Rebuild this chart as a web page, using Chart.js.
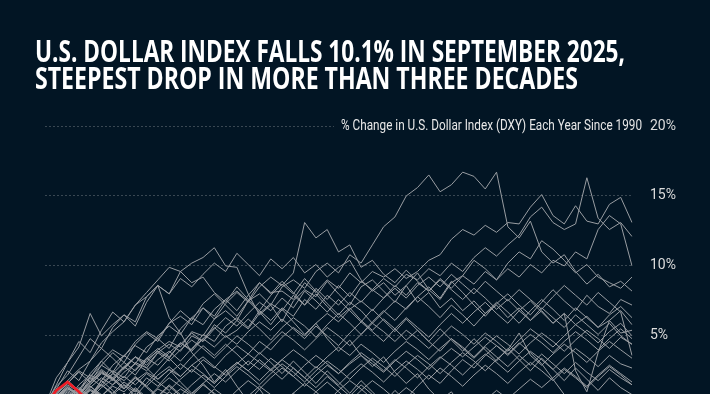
<!DOCTYPE html>
<html>
<head>
<meta charset="utf-8">
<script src="https://cdn.jsdelivr.net/npm/chart.js@4.4.1/dist/chart.umd.min.js"></script>
<style>
  html, body { margin: 0; padding: 0; background: #021524; overflow: hidden; }
  canvas { display: block; }
</style>
</head>
<body>
<canvas id="dxy" width="710" height="712"></canvas>
<script>
// weekly % change in DXY since Jan 1, one array per year (week 0..52)
const weeks = Array.from({length: 53}, (_, i) => i);
const yTicks = [5, 10, 15, 20];

const y2025 = [0, 1.1, 1.7, 1.0, 0.2, 0.5, -0.4, -0.8, -1.2, -3.5, -4.2,
  -3.8, -4.5, -5.6, -7.8, -8.6, -9.0, -8.4, -8.7, -8.1, -8.9,
  -9.3, -9.0, -9.8, -10.5, -10.1, -9.3, -8.8, -9.6, -9.2, -9.9,
  -10.3, -9.8, -10.6, -10.2, -10.9, -10.4, -10.0, -10.5, -10.1];

const y2022 = [0, 0.6, 1.2, 0.8, 1.5, 2.3, 2.0, 2.8, 3.5, 3.1, 4.0,
  4.6, 4.2, 5.3, 5.0, 6.2, 6.8, 6.1, 7.5, 8.0, 7.2,
  8.5, 9.0, 8.4, 9.6, 10.2, 9.5, 10.8, 10.2, 11.5, 12.8,
  13.5, 15.0, 15.6, 16.5, 15.3, 15.8, 16.7, 16.4, 15.5, 16.7,
  12.8, 12.0, 13.2, 11.0, 10.2, 10.8, 9.6, 8.7, 9.4, 8.5, 8.9, 8.2];
const y2015 = [0, 1.0, 1.8, 2.6, 3.2, 4.5, 5.3, 6.0, 7.2, 8.1, 9.0,
  9.9, 9.6, 10.2, 10.6, 11.3, 10.0, 9.9, 8.0, 6.5, 7.2,
  6.0, 7.5, 8.3, 7.8, 8.9, 8.0, 7.2, 8.5, 9.0, 8.2,
  7.4, 8.6, 9.5, 8.3, 7.6, 8.8, 9.3, 10.4, 9.8, 9.0,
  10.2, 11.0, 10.5, 11.8, 11.2, 10.4, 9.5, 10.1, 9.2, 8.8, 8.4, 9.2];
const y2014 = [0, 0.8, 0.4, 1.5, 2.2, 1.8, 2.9, 3.6, 3.0, 4.2, 4.8,
  4.1, 5.5, 6.3, 5.8, 6.9, 7.6, 6.8, 7.9, 8.8, 8.1,
  8.2, 7.6, 8.8, 8.1, 9.0, 8.4, 9.5, 8.8, 9.6, 9.2,
  9.8, 9.1, 9.6, 10.4, 10.8, 11.9, 12.6, 12.2, 12.9, 12.4,
  13.1, 13.0, 14.2, 15.1, 13.6, 13.0, 14.3, 13.2, 13.0, 14.4, 14.9, 13.1];
const y1997 = [0, -0.5, 0.3, 1.0, 0.6, 1.8, 2.5, 2.0, 3.1, 2.7, 3.8,
  4.4, 3.9, 5.0, 4.6, 5.8, 5.2, 6.1, 5.5, 6.6, 7.3,
  6.8, 7.9, 7.2, 8.4, 7.6, 8.6, 7.8, 8.9, 8.3, 9.1,
  8.5, 9.4, 9.0, 9.8, 9.3, 10.2, 9.6, 10.6, 11.3, 10.7,
  11.5, 12.2, 13.5, 14.2, 13.1, 12.6, 13.0, 16.3, 13.4, 12.6, 13.1, 12.1];
const y2005 = [0, 0.5, 1.2, 0.9, 1.7, 2.4, 1.9, 2.8, 2.2, 3.3, 3.9,
  3.4, 4.5, 4.0, 5.1, 4.6, 5.7, 6.3, 5.6, 6.8, 6.1,
  7.0, 6.4, 7.6, 6.9, 7.9, 7.2, 8.1, 7.4, 8.3, 7.7,
  8.6, 7.9, 8.8, 8.2, 9.1, 8.4, 9.3, 8.7, 9.6, 9.0,
  9.8, 9.2, 10.1, 9.5, 10.4, 10.0, 11.0, 10.5, 12.6, 13.6, 13.0, 10.0];
const y2000 = [0, 1.4, 2.2, 3.5, 4.8, 4.1, 5.6, 6.5, 6.0, 7.8, 8.6,
  8.0, 9.6, 8.8, 9.2, 8.1, 7.4, 8.5, 7.6, 6.8, 7.9,
  8.7, 8.0, 9.1, 8.2, 7.3, 6.5, 7.4, 6.8, 5.9, 6.7,
  7.5, 6.9, 7.8, 8.5, 7.7, 8.9, 8.1, 7.2, 6.4, 7.3,
  8.0, 7.2, 6.5, 7.4, 8.3, 7.5, 6.8, 7.9, 7.1, 6.6, 7.6, 7.2];
const y2001 = [0, 2.0, 3.1, 4.2, 6.6, 5.0, 5.8, 6.5, 5.7, 7.4, 8.6,
  8.0, 9.1, 8.5, 9.4, 10.2, 9.6, 10.9, 10.1, 9.3, 10.5,
  9.8, 10.6, 9.5, 10.1, 9.2, 9.9, 10.4, 9.0, 8.2, 8.8,
  7.9, 8.6, 7.4, 8.1, 7.0, 7.7, 6.8, 7.5, 6.6, 7.2,
  6.3, 7.0, 6.1, 6.8, 5.9, 6.6, 5.8, 6.4, 5.6, 6.1, 5.2, 5.4];
const y1992 = [0, 0.9, 1.6, 2.5, 2.0, 3.2, 4.0, 3.5, 4.6, 5.3, 4.8,
  5.9, 6.4, 5.8, 7.0, 6.2, 7.3, 8.1, 7.4, 8.5, 9.2,
  8.6, 9.5, 13.1, 12.0, 12.6, 11.0, 11.5, 9.9, 10.4, 9.4,
  8.8, 9.7, 8.9, 8.2, 9.0, 8.3, 7.6, 8.4, 7.7, 6.9,
  7.6, 6.8, 6.1, 7.0, 6.3, 5.6, 6.5, 5.8, 5.1, 5.9, 5.0, 4.4];
const y2024 = [0, -0.4, 0.5, 1.1, 0.7, 1.6, 2.3, 1.8, 2.6, 3.4, 2.9,
  3.8, 4.5, 3.9, 4.8, 5.6, 4.9, 5.4, 6.2, 5.5, 4.7,
  5.6, 6.3, 5.7, 4.9, 5.8, 6.6, 5.9, 5.1, 6.0, 6.8,
  6.1, 7.0, 7.8, 7.1, 6.3, 7.2, 6.5, 5.7, 6.6, 7.4,
  6.7, 5.9, 6.8, 7.6, 6.9, 6.1, 7.0, 6.3, 5.6, 6.5, 7.1, 6.3];
const y2019 = [0, 0.6, 1.5, 1.0, 2.1, 2.9, 2.4, 3.6, 4.3, 3.8, 5.0,
  5.7, 5.1, 6.3, 7.0, 6.4, 7.6, 8.2, 7.5, 8.8, 8.0,
  8.9, 8.1, 7.2, 8.0, 7.1, 6.3, 7.0, 6.1, 5.4, 6.2,
  5.5, 4.7, 5.4, 4.6, 3.9, 4.8, 4.1, 3.4, 4.2, 3.5,
  2.8, 3.6, 2.9, 3.7, 3.0, 2.3, 3.1, 2.4, 1.8, 2.6, 2.0, 1.5];
const y2018 = [0, 0.3, -0.2, 0.6, 1.1, 0.7, 1.4, 1.0, 1.8, 2.4, 1.9,
  2.6, 2.1, 2.9, 3.5, 2.8, 2.2, 3.0, 3.7, 3.1, 2.5,
  3.3, 4.0, 3.4, 2.7, 3.5, 4.2, 3.6, 4.4, 3.8, 3.1,
  3.9, 4.6, 4.0, 3.3, 4.1, 4.8, 4.2, 3.5, 4.3, 5.0,
  4.4, 3.7, 4.5, 5.2, 4.6, 3.9, 4.7, 5.4, 4.8, 4.1, 4.9, 4.4];
const y1999 = [0, -0.6, -1.0, -0.3, 0.4, -0.2, 0.8, 1.5, 1.0, 2.0, 1.4,
  2.3, 3.0, 2.4, 3.3, 2.7, 3.6, 4.3, 3.7, 4.6, 4.0,
  4.9, 5.6, 5.0, 5.9, 6.6, 6.0, 6.9, 7.5, 6.8, 7.7,
  8.4, 7.7, 8.6, 9.2, 8.5, 9.4, 8.7, 8.0, 8.9, 8.2,
  7.5, 8.3, 7.6, 6.9, 7.8, 8.6, 7.9, 7.2, 8.1, 7.4, 6.7, 3.6];
const y2021 = [0, 0.4, 1.0, 0.5, 1.3, 2.0, 1.5, 2.4, 3.0, 2.5, 3.3,
  3.9, 3.2, 4.1, 4.8, 4.2, 5.0, 4.4, 5.3, 6.0, 5.4,
  6.2, 5.5, 4.8, 5.7, 5.0, 4.3, 5.2, 6.0, 5.3, 4.6,
  5.5, 6.3, 5.6, 4.9, 5.8, 6.6, 5.9, 6.7, 7.4, 6.6,
  5.9, 6.8, 7.5, 6.7, 5.9, 6.6, 2.5, 1.0, 3.8, 6.1, 6.8, 5.8];
const y2020 = [0, 1.2, 2.5, 1.8, 3.2, 4.1, 3.4, 2.6, 3.5, 2.7, 1.9,
  2.6, 1.7, 0.9, 1.6, 0.8, 0.0, 0.7, -0.2, -1.0, -0.3,
  -1.2, -2.0, -1.4, -2.3, -1.6, -2.5, -3.1, -2.4, -3.2, -2.6,
  -3.4, -2.8, -3.6, -4.2, -3.5, -4.3, -3.7, -4.5, -3.9, -4.6,
  -4.0, -4.8, -5.4, -4.7, -5.5, -4.9, -5.6, -5.0, -5.7, -6.2, -5.5, -6.0];
const y2011 = [0, 0.7, 0.2, 1.0, 0.5, 1.3, 1.9, 1.2, 2.0, 1.4, 2.2,
  2.8, 2.1, 2.9, 2.3, 1.6, 2.4, 3.1, 2.5, 1.8, 2.6,
  3.3, 2.7, 2.0, 2.8, 2.2, 1.5, 2.3, 3.0, 2.4, 1.7,
  2.5, 3.2, 2.6, 1.9, 2.7, 2.1, 1.4, 2.2, 2.9, 2.3,
  1.6, 2.4, 3.1, 2.5, 1.8, 2.6, 2.0, 1.3, 2.1, 2.8, 2.2, 1.5];
const y2010 = [0, -0.3, 0.4, -0.1, 0.8, 1.5, 0.9, 1.7, 1.1, 0.5, 1.3,
  2.0, 1.4, 0.8, 1.6, 2.3, 1.7, 2.5, 3.2, 2.6, 3.4,
  2.8, 2.1, 2.9, 3.6, 3.0, 2.3, 3.1, 3.8, 3.2, 2.5,
  3.3, 2.7, 2.0, 2.8, 3.5, 2.9, 2.2, 3.0, 3.7, 3.1,
  2.4, 3.2, 3.9, 3.3, 2.6, 3.4, 4.1, 3.5, 2.8, 3.6, 3.0, 2.7];
const y2016 = [0, -0.8, -1.5, -1.0, -1.8, -1.2, -0.5, -1.1, -0.3, 0.4, -0.2,
  0.6, 1.2, 0.7, 1.5, 0.9, 0.3, 1.1, 1.8, 1.2, 2.0,
  2.7, 2.1, 1.4, 2.2, 2.9, 2.3, 3.0, 3.6, 3.0, 2.4,
  3.2, 3.9, 3.3, 2.6, 3.4, 4.1, 3.5, 4.2, 4.9, 4.3,
  3.6, 4.4, 5.1, 4.5, 3.8, 4.6, 5.3, 4.7, 4.0, 4.8, 5.5, 4.8];
const y2012 = [0, 0.5, 1.1, 0.6, 1.4, 0.8, 0.2, 0.9, 0.3, -0.4, 0.3,
  1.0, 0.4, -0.3, 0.5, 1.2, 0.6, -0.1, 0.7, 1.4, 0.8,
  0.1, 0.9, 1.6, 1.0, 0.3, 1.1, 1.8, 1.2, 0.5, -0.2,
  0.6, 1.3, 0.7, 0.0, -0.8, -0.1, 0.6, -0.2, -1.0, -0.4,
  0.3, -0.5, -1.3, -0.6, 0.1, -0.7, -1.5, -0.8, -0.1, -0.9, -0.3, -0.5];
const y1996 = [0, 0.2, 0.9, 0.4, 1.2, 0.7, 1.5, 2.1, 1.5, 2.3, 1.7,
  1.1, 1.9, 2.6, 2.0, 1.3, 2.1, 2.8, 2.2, 1.5, 2.3,
  3.0, 2.4, 1.7, 2.5, 3.2, 2.6, 1.9, 2.7, 3.4, 2.8,
  2.1, 2.9, 3.6, 3.0, 2.3, 3.1, 3.8, 3.2, 2.5, 3.3,
  4.0, 5.2, 3.6, 2.9, 3.7, 4.4, 3.8, 3.1, 3.9, 4.6, 4.0, 3.4];
const y2013 = [0, 0.9, 0.3, 1.2, 2.0, 1.4, 2.3, 3.1, 2.5, 3.4, 4.1,
  3.5, 4.4, 5.2, 4.6, 5.5, 6.3, 5.7, 6.6, 7.4, 6.8,
  7.7, 7.0, 8.2, 7.5, 6.7, 7.6, 6.8, 6.0, 6.9, 6.1,
  5.3, 6.2, 5.4, 4.6, 5.5, 4.7, 3.9, 4.8, 4.0, 3.2,
  4.1, 3.3, 2.5, 3.4, 2.6, 1.8, 2.7, 1.9, 1.1, 2.0, 1.3, 0.8];
const y2008 = [0, 0.6, 1.3, 0.8, 1.6, 2.4, 1.8, 2.7, 3.5, 2.9, 3.8,
  3.2, 4.0, 4.7, 4.1, 3.4, 4.2, 5.0, 4.4, 3.7, 4.5,
  5.3, 4.7, 4.0, 4.8, 5.6, 5.0, 4.3, 5.1, 5.9, 5.3,
  4.6, 5.4, 4.8, 4.1, 4.9, 5.7, 5.1, 4.4, 5.2, 4.6,
  3.9, 4.7, 5.5, 4.9, 4.2, 5.0, 5.8, 5.2, 4.5, 5.3, 5.9, 5.0];

const y1990 = [0, -0.5, -1.2, 0.3, 1.1, 0.6, -0.2, -0.9, -0.4, 0.5, 1.2,
  0.8, 0.1, -0.6, -1.3, -0.7, 0.2, -0.5, -1.4, -2.1, -1.6,
  -2.4, -3.2, -2.7, -3.6, -4.5, -4.0, -5.1, -5.9, -5.3, -6.2,
  -7.0, -6.5, -7.4, -8.1, -7.6, -8.5, -9.2, -8.6, -9.5, -10.2,
  -9.7, -10.5, -11.1, -10.4, -11.2, -11.8, -11.1, -11.9, -12.4, -11.8, -12.3, -11.9];
const y1991 = [0, 0.8, 1.6, 2.4, 1.7, 2.9, 3.8, 3.1, 4.4, 5.2, 4.6,
  5.9, 6.8, 6.1, 7.3, 8.0, 7.2, 6.4, 7.5, 6.7, 5.8,
  6.9, 6.0, 5.1, 5.9, 4.8, 3.9, 4.7, 3.6, 2.8, 3.5,
  2.4, 1.6, 2.3, 1.2, 0.4, 1.0, -0.1, -0.9, -0.2, -1.2,
  -2.0, -1.3, -2.4, -3.1, -2.5, -3.4, -4.2, -3.6, -4.5, -5.3, -6.1, -6.8];
const y1993 = [0, -0.4, 0.6, 1.3, 0.7, 1.8, 1.1, 0.3, 1.2, 0.5, -0.3,
  0.4, -0.5, -1.3, -0.6, -1.5, -2.2, -1.4, -0.7, -1.6, -0.8,
  0.1, 0.9, 0.2, 1.0, 1.7, 1.0, 0.3, 1.1, 1.8, 1.2,
  0.5, -0.2, 0.6, -0.1, -0.9, -0.2, 0.5, -0.3, 0.4, 1.1,
  0.5, 1.2, 1.9, 1.3, 2.0, 2.7, 2.1, 1.4, 2.2, 2.9, 2.3, 1.7];
const y1994 = [0, 0.5, -0.3, -1.0, -0.4, -1.2, -1.9, -1.3, -2.1, -2.8, -2.2,
  -3.0, -3.7, -3.1, -3.9, -4.6, -4.0, -4.8, -5.5, -4.9, -5.7,
  -6.4, -5.8, -6.6, -7.3, -6.7, -7.5, -8.2, -7.6, -8.4, -7.8,
  -8.6, -9.3, -8.7, -9.5, -10.2, -9.6, -9.0, -9.8, -10.5, -9.9,
  -9.3, -10.1, -9.5, -8.9, -9.7, -10.4, -9.8, -9.2, -10.0, -9.4, -8.8, -9.6];
const y1995 = [0, -0.7, -1.5, -0.9, -2.0, -2.8, -3.9, -4.7, -5.8, -7.0, -8.3,
  -9.5, -10.8, -10.1, -11.3, -10.5, -9.6, -10.4, -9.5, -8.7, -9.6,
  -8.8, -7.9, -8.7, -7.8, -6.9, -7.7, -6.8, -5.9, -6.7, -5.8,
  -5.0, -5.8, -4.9, -5.7, -4.8, -5.6, -4.7, -5.5, -4.6, -5.4,
  -4.5, -5.3, -4.4, -5.2, -4.3, -5.1, -4.2, -5.0, -4.1, -4.9, -4.0, -4.4];
const y1998 = [0, 0.6, 1.3, 0.8, 1.7, 2.5, 1.9, 1.2, 2.0, 1.3, 0.6,
  1.4, 0.7, 1.5, 2.2, 1.6, 2.4, 3.1, 2.5, 3.3, 2.6,
  1.9, 2.7, 2.0, 1.3, 2.1, 1.4, 0.7, 1.5, 0.8, -0.6,
  -2.3, -4.1, -5.8, -7.2, -6.5, -7.8, -7.1, -6.3, -7.0, -6.2,
  -5.5, -6.3, -5.6, -4.9, -5.7, -6.4, -5.8, -6.6, -7.3, -6.7, -7.4, -7.9];
const y2002 = [0, 0.7, 1.4, 0.8, 1.9, 2.6, 2.0, 1.3, 2.1, 1.4, 0.7,
  1.5, 0.8, 0.1, -0.7, -1.5, -2.6, -3.8, -4.9, -6.1, -7.0,
  -8.2, -9.4, -10.1, -9.3, -10.4, -9.6, -8.8, -9.7, -8.9, -9.8,
  -9.0, -8.2, -9.1, -8.3, -9.2, -8.4, -9.3, -10.1, -9.4, -10.3,
  -9.5, -10.4, -11.2, -10.5, -11.4, -10.7, -11.6, -12.3, -11.7, -12.5, -12.0, -12.6];
const y2003 = [0, -0.8, -1.7, -2.5, -1.8, -2.9, -3.7, -3.0, -4.1, -4.9, -4.2,
  -5.3, -6.1, -5.4, -6.5, -7.3, -8.4, -9.2, -8.5, -9.6, -8.8,
  -7.9, -8.7, -7.8, -6.9, -7.7, -8.6, -7.8, -8.7, -9.5, -8.8,
  -9.7, -10.5, -9.8, -10.7, -11.5, -10.8, -11.7, -12.5, -11.8, -12.6,
  -13.3, -12.7, -13.5, -14.2, -13.6, -14.3, -15.0, -14.4, -15.1, -14.5, -15.2, -14.7];
const y2004 = [0, 0.9, 1.8, 1.1, 2.3, 3.2, 2.4, 1.5, 0.7, 1.6, 2.5,
  3.4, 2.6, 3.5, 4.3, 3.6, 4.4, 3.7, 2.9, 3.8, 3.1,
  2.3, 3.2, 2.4, 1.6, 2.5, 1.7, 0.9, 1.8, 1.0, 0.2,
  1.1, 0.3, -0.5, 0.4, -0.4, -1.2, -2.1, -3.0, -2.3, -3.2,
  -4.1, -5.0, -5.9, -6.8, -7.6, -8.4, -7.7, -8.6, -9.3, -8.7, -8.1, -7.9];
const y2006 = [0, -0.6, 0.4, 1.2, 0.6, 1.5, 0.8, 0.1, 0.9, 0.2, -0.6,
  -1.4, -2.3, -3.1, -4.0, -4.8, -5.7, -6.5, -5.8, -6.7, -5.9,
  -5.1, -6.0, -5.2, -6.1, -6.9, -6.2, -5.4, -6.3, -5.5, -6.4,
  -5.6, -4.8, -5.7, -4.9, -5.8, -6.6, -5.9, -6.8, -7.6, -6.9,
  -7.8, -8.6, -7.9, -8.8, -9.6, -8.9, -9.7, -10.4, -9.8, -9.1, -8.4, -8.2];
const y2007 = [0, 0.7, 1.3, 0.6, 1.4, 0.7, 0.0, 0.8, 0.1, -0.6, -1.4,
  -0.7, -1.5, -2.2, -1.6, -2.4, -3.1, -2.5, -1.8, -2.6, -3.3,
  -4.1, -3.5, -4.3, -5.0, -4.4, -5.2, -5.9, -5.3, -6.1, -6.8,
  -7.6, -8.4, -9.2, -10.0, -10.8, -11.5, -10.9, -11.7, -12.4, -11.8,
  -11.1, -10.4, -11.2, -10.6, -9.9, -10.7, -9.4, -8.7, -9.5, -8.8, -8.2, -8.4];
const y2009 = [0, 1.5, 3.1, 4.6, 3.8, 5.4, 6.7, 6.0, 7.2, 7.8, 8.6,
  6.3, 5.2, 3.8, 2.9, 1.7, 2.6, 1.4, 0.3, 1.2, 0.1,
  -1.1, -2.3, -3.4, -2.6, -3.7, -4.8, -4.0, -5.1, -6.2, -5.4,
  -6.5, -7.3, -6.6, -7.7, -8.4, -7.7, -8.5, -9.2, -8.6, -9.4,
  -10.1, -9.5, -10.3, -11.0, -10.4, -9.7, -8.9, -8.2, -7.4, -6.6, -5.8, -4.2];
const y2017 = [0, -0.8, -1.6, -1.0, -0.3, -1.1, -0.4, 0.3, -0.5, -1.3, -0.7,
  -1.5, -2.3, -1.6, -2.5, -3.3, -4.2, -5.0, -5.9, -5.2, -6.1,
  -6.9, -7.8, -7.1, -8.0, -8.8, -9.7, -10.5, -9.8, -10.7, -11.4,
  -10.8, -11.6, -10.9, -10.2, -9.5, -10.3, -9.6, -8.9, -9.7, -9.0,
  -8.3, -9.1, -8.4, -9.2, -9.9, -9.2, -9.8, -9.1, -9.7, -10.3, -9.6, -9.9];
const y2023 = [0, -0.9, -1.7, -1.0, -2.1, -1.3, -0.4, 0.5, 1.3, 0.6, -0.3,
  -1.2, -2.0, -1.3, -2.4, -3.1, -2.4, -1.6, -2.5, -1.8, -1.0,
  -1.9, -1.1, -0.3, -1.2, -2.1, -2.9, -3.7, -3.0, -2.1, -1.2,
  -0.4, 0.5, 1.4, 2.2, 1.6, 2.5, 3.3, 2.7, 3.6, 4.3,
  3.7, 4.5, 3.8, 3.0, 1.9, 0.8, -0.1, -0.9, -0.2, -1.1, -1.8, -2.1];

const pastYears = [y1990, y1991, y1992, y1993, y1994, y1995, y1996, y1997, y1998, y1999,
  y2000, y2001, y2002, y2003, y2004, y2005, y2006, y2007, y2008, y2009,
  y2010, y2011, y2012, y2013, y2014, y2015, y2016, y2017, y2018, y2019,
  y2020, y2021, y2022, y2023, y2024];

const BG = '#021524';

const datasets = [{
  label: '2025', data: y2025, borderColor: '#ee1c25', borderWidth: 2.6,
  pointRadius: 0, tension: 0
}];
pastYears.forEach((d, i) => {
  datasets.push({
    label: String(1990 + i), data: d, borderColor: '#999da2', borderWidth: 1,
    pointRadius: 0, tension: 0
  });
});

function fitText(ctx, text, x, y, w) {
  const m = ctx.measureText(text).width;
  ctx.save();
  ctx.translate(x, y);
  ctx.scale(w / m, 1);
  ctx.fillText(text, 0, 0);
  ctx.restore();
}

const textPlugin = {
  id: 'texts',
  beforeDatasetsDraw(chart) {
    const ctx = chart.ctx;
    ctx.save();
    ctx.fillStyle = BG;
    ctx.fillRect(334, 115, 312, 22);
    ctx.fillStyle = '#e8e8e8';
    ctx.font = '15px Roboto';
    ctx.textBaseline = 'middle';
    ctx.textAlign = 'left';
    fitText(ctx, '% Change in U.S. Dollar Index (DXY) Each Year Since 1990', 341, 126, 301);
    ctx.restore();
  },
  afterDraw(chart) {
    const ctx = chart.ctx;
    ctx.save();
    ctx.fillStyle = '#ffffff';
    ctx.font = '700 30px "Open Sans"';
    ctx.textBaseline = 'alphabetic';
    ctx.textAlign = 'left';
    fitText(ctx, 'U.S. DOLLAR INDEX FALLS 10.1% IN SEPTEMBER 2025,', 35, 62, 590);
    fitText(ctx, 'STEEPEST DROP IN MORE THAN THREE DECADES', 35, 89, 543);
    ctx.restore();
  }
};

new Chart(document.getElementById('dxy'), {
  type: 'line',
  data: { labels: weeks, datasets: datasets },
  options: {
    responsive: false,
    animation: false,
    events: [],
    layout: { padding: { top: 126, left: 45, right: 0, bottom: 0 } },
    plugins: { legend: { display: false }, tooltip: { enabled: false } },
    scales: {
      x: { display: false },
      y: {
        position: 'right',
        min: -20, max: 20,
        afterFit(s) { s.width = 78; },
        afterBuildTicks(s) { s.ticks = yTicks.map(v => ({ value: v })); },
        ticks: {
          padding: 18,
          color: '#dcdcdc',
          font: { family: 'Roboto', size: 14 },
          callback: v => v + '%'
        },
        grid: { drawTicks: false, color: 'rgba(200,200,200,0.28)', lineWidth: 1 },
        border: { display: false, dash: [2, 2] }
      }
    }
  },
  plugins: [textPlugin]
});
</script>
</body>
</html>
